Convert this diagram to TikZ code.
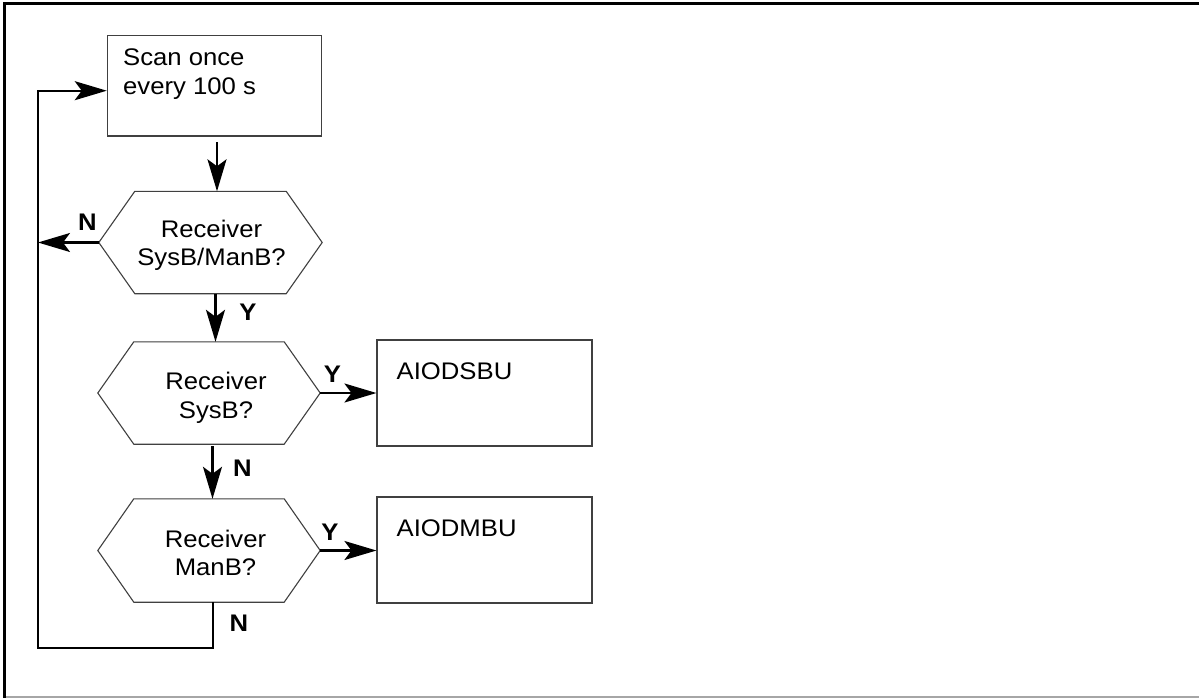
\documentclass[tikz,border=0pt]{standalone}
\usepackage{fontspec}
\setmainfont{Liberation Sans}[FakeStretch=1.07]
\usetikzlibrary{arrows.meta,calc}
\newcommand\drawhexof[1]{\draw[hexline] ($(#1.north west)+(36,0)$) -- ($(#1.north east)+(-36,0)$) -- (#1.east) -- ($(#1.south east)+(-36,0)$) -- ($(#1.south west)+(36,0)$) -- (#1.west) -- cycle;}
\begin{document}
\begin{tikzpicture}[x=1pt,y=-1pt,
  txt/.style={font=\fontsize{24}{28.7}\selectfont, inner sep=0pt},
  lbl/.style={font=\fontsize{24}{28.7}\selectfont\bfseries, inner sep=0pt},
  boxn/.style={draw=black!75, line width=1.1pt, inner sep=0pt},
  hexn/.style={minimum width=223pt, minimum height=102pt, inner sep=0pt},
  hexline/.style={draw=black!75, line width=1.1pt},
  conn/.style={line width=2.2pt},
  arr/.style={conn, -{Stealth[length=32pt,width=19pt,inset=7pt]}}]
\useasboundingbox (0,0) rectangle (1199,698);
\fill[white] (0,0) rectangle (1199,698);
% frame
\draw[line width=3.2pt] (1199,3.2) -- (4.8,3.2) -- (4.8,697.5);
\draw[gray!70, line width=1.6pt] (6.4,697.2) -- (1199,697.2);
% nodes
\node[boxn, minimum width=214.4pt, minimum height=100.3pt] (scan) at (214.5,85.85) {};
\node[txt, anchor=north west, align=left] (scant) at (123,48.5) {Scan once\\every 100 s};
\node[hexn] (h1) at (210.5,242.5) {}; \drawhexof{h1}
\node[txt, anchor=north, align=center] (h1t) at (211.5,219.5) {Receiver\\SysB/ManB?};
\node[hexn, minimum width=222pt] (h2) at (209,393) {}; \drawhexof{h2}
\node[txt, anchor=north, align=center] (h2t) at (216,372.2) {Receiver\\SysB?};
\node[hexn, minimum width=222pt, minimum height=103pt] (h3) at (209,550.5) {}; \drawhexof{h3}
\node[txt, anchor=north, align=center] (h3t) at (215.5,529.5) {Receiver\\ManB?};
\node[boxn, minimum width=215pt, minimum height=106pt] (b1) at (484.5,393) {};
\node[txt, anchor=north west] (b1t) at (396.5,363) {AIODSBU};
\node[boxn, minimum width=215pt, minimum height=106pt] (b2) at (484.5,550) {};
\node[txt, anchor=north west] (b2t) at (396.5,519.7) {AIODMBU};
\coordinate (lp) at (38,648);
% connectors
\draw[arr] ([xshift=2.5pt,yshift=-5.5pt]scan.south) -- ([xshift=6.5pt]h1.north);
\draw[arr] (h1.west) -- (h1.west -| lp);
\draw[arr] ([xshift=5pt]h1.south) -- ([xshift=6.5pt]h2.north);
\draw[arr] (h2.east) -- (h2.east -| b1.west);
\draw[arr] ([xshift=3.5pt,yshift=-2pt]h2.south) -- ([xshift=3.5pt]h3.north);
\draw[arr] (h3.east) -- (h3.east -| b2.west);
\draw[arr] ([xshift=4pt]h3.south) |- (lp) |- ([yshift=-4.85pt]scan.west);
% labels
\node[lbl] (n1) at (87.3,222) {N};
\node[lbl] (y1) at (248,312.7) {Y};
\node[lbl] (y2) at (332.5,374) {Y};
\node[lbl] (n2) at (242.3,468) {N};
\node[lbl] (y3) at (330,532) {Y};
\node[lbl] (n3) at (239,623) {N};
\end{tikzpicture}
\end{document}
